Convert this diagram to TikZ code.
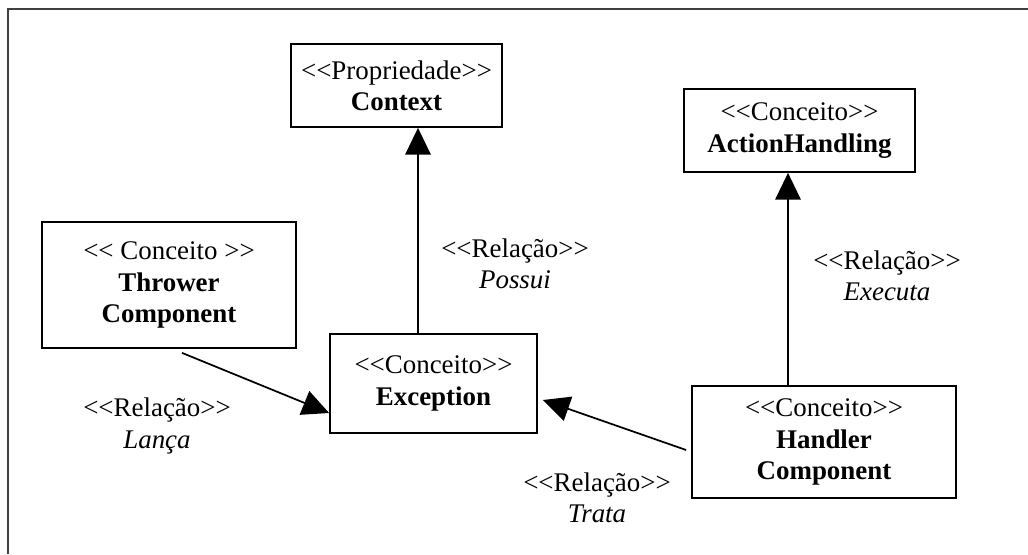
\documentclass[tikz,border=0pt]{standalone}
\usepackage{fontspec}
\setmainfont{Liberation Serif}
\usetikzlibrary{arrows.meta,calc}
% stereotype brackets, kept apart so they are not turned into guillemets
\newcommand\stOpen{<\kern0pt<}
\newcommand\stClose{>\kern0pt>}
\tikzset{
  concept/.style={draw=black, line width=1.3pt, fill=white, align=center,
    inner sep=0pt, font=\fontsize{20.2}{23.5}\selectfont},
  rellabel/.style={align=center, inner sep=0pt,
    font=\fontsize{20.2}{23.5}\selectfont},
  relarrow/.style={line width=1.3pt, -{Triangle[width=19pt,length=20pt]}},
  frameline/.style={draw=black!75, line width=2pt}
}
\begin{document}
\begin{tikzpicture}[x=0.75pt, y=-0.75pt]
  \useasboundingbox (0,0) rectangle (1028,554);
  % partial outer frame
  \draw[frameline] (8,554) -- (8,9) -- (1028,9);

  % concepts
  \node[concept, minimum width=211*0.75pt, minimum height=83*0.75pt] (ctx) at (396.5,85.5)
    {\stOpen Propriedade\stClose\\\textbf{Context}};
  \node[concept, minimum width=231*0.75pt, minimum height=83*0.75pt] (act) at (799.5,130.5)
    {\stOpen Conceito\stClose\\\textbf{ActionHandling}};
  \node[concept, minimum width=254*0.75pt, minimum height=126*0.75pt] (thr) at (169,285)
    {\stOpen{} Conceito \stClose\\\textbf{Thrower}\\\textbf{Component}};
  \node[concept, minimum width=207*0.75pt, minimum height=99*0.75pt] (exc) at (433.5,383.5)
    {\stOpen Conceito\stClose\\\textbf{Exception}};
  \node[concept, minimum width=264*0.75pt, minimum height=112*0.75pt] (hdl) at (824,442)
    {\stOpen Conceito\stClose\\\textbf{Handler}\\\textbf{Component}};

  % relations
  \draw[relarrow] ($(exc.north)+(-15.5,0)$) -- ($(ctx.south)+(21.5,0)$);
  \draw[relarrow] ($(hdl.north)+(-36,0)$) -- ($(act.south)+(-11.5,0)$);
  \draw[relarrow] ($(thr.south)+(13,4)$) -- ($(exc.west)+(0,29.5)$);
  \draw[relarrow] ($(hdl.west)+(-5,8)$) -- ($(exc.east)+(5,16.5)$);

  % relation labels
  \node[rellabel] (lpossui) at (515,264) {\stOpen Relação\stClose\\\textit{Possui}};
  \node[rellabel] (lexec) at (887,276) {\stOpen Relação\stClose\\\textit{Executa}};
  \node[rellabel] (llanca) at (157,426) {\stOpen Relação\stClose\\\textit{Lança}};
  \node[rellabel] (ltrata) at (597,498) {\stOpen Relação\stClose\\\textit{Trata}};
\end{tikzpicture}
\end{document}
